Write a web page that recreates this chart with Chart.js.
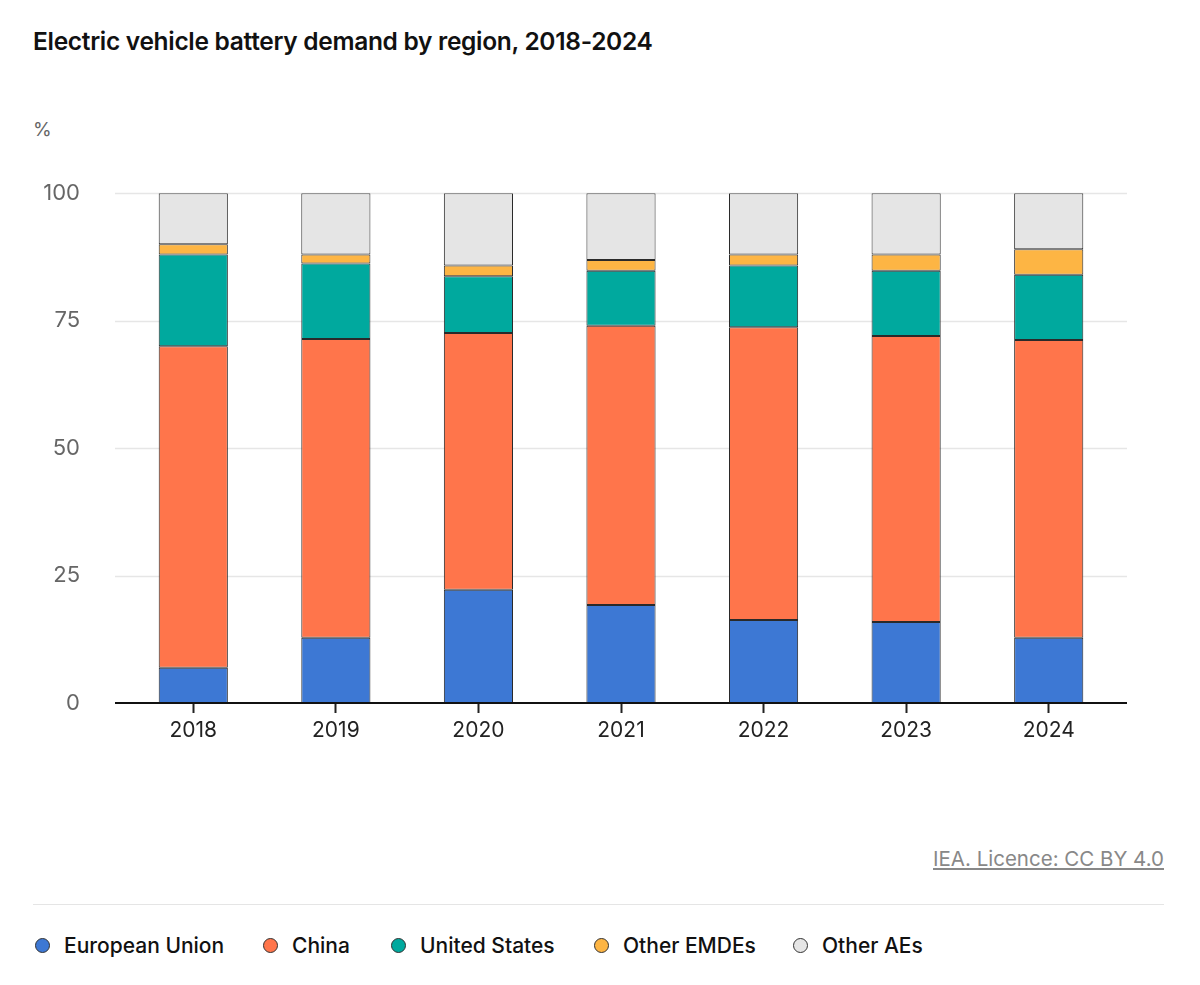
<!DOCTYPE html>
<html>
<head>
<meta charset="utf-8">
<script src="https://cdn.jsdelivr.net/npm/chart.js@4/dist/chart.umd.min.js"></script>
<style>
  body { margin: 0; background: #fff; font-family: "Inter", "Noto Sans", sans-serif; }
  #page { position: relative; width: 1200px; height: 985px; }
  #title { position: absolute; left: 33px; top: 26px; font-size: 24.5px; font-weight: 600; color: #111; letter-spacing: -0.3px; }
  #unit { position: absolute; left: 33px; top: 118px; font-size: 19px; color: #666; }
  #chart-box { position: absolute; left: 0; top: 146px; width: 1200px; height: 614px; }
  #source { position: absolute; right: 36px; top: 846px; font-size: 20.5px; color: #888; text-decoration: underline; }
  #sep { position: absolute; left: 33px; right: 36px; top: 904px; border-top: 1px solid #e5e5e5; }
  #legend { position: absolute; left: 35px; top: 933px; font-size: 21px; font-weight: 500; color: #111; }
  .item { position: absolute; top: 0; display: flex; align-items: center; white-space: nowrap; }
  .dot { width: 15px; height: 15px; border-radius: 50%; border: 1px solid #333; box-sizing: border-box; margin-right: 14px; }
</style>
</head>
<body>
<div id="page">
  <div id="title">Electric vehicle battery demand by region, 2018-2024</div>
  <div id="unit">%</div>
  <div id="chart-box"><canvas id="chart"></canvas></div>
  <div id="source">IEA. Licence: CC BY 4.0</div>
  <div id="sep"></div>
  <div id="legend"></div>
</div>
<script>
var years = ["2018", "2019", "2020", "2021", "2022", "2023", "2024"];
var euData = [6.9, 12.8, 22.2, 19.2, 16.3, 15.9, 12.8];
var chinaData = [63.1, 58.6, 50.4, 54.8, 57.4, 56.1, 58.4];
var usData = [18, 14.8, 11.1, 10.8, 12.1, 12.8, 12.8];
var emdeData = [2, 1.8, 2.1, 2.1, 2.2, 3.2, 5];
var aeData = [10, 12, 14.2, 13.1, 12, 12, 11];
var yTicks = [0, 25, 50, 75, 100];

var series = [
  { label: "European Union", data: euData, color: "#3d78d4" },
  { label: "China", data: chinaData, color: "#ff754b" },
  { label: "United States", data: usData, color: "#00a99e" },
  { label: "Other EMDEs", data: emdeData, color: "#fdb544" },
  { label: "Other AEs", data: aeData, color: "#e5e5e5" },
];

// legend positions roughly as in the original layout
var legendX = [0, 228, 356, 559, 758];
var legend = document.getElementById("legend");
series.forEach(function (s, i) {
  var item = document.createElement("div");
  item.className = "item";
  item.style.left = legendX[i] + "px";
  item.innerHTML = "<span class='dot' style='background:" + s.color + "'></span>" + s.label;
  legend.appendChild(item);
});

// gridlines and baseline run a bit past the bars on both sides
var EXTEND = 7;
var gridPlugin = {
  id: "wideGrid",
  beforeDatasetsDraw: function (c) {
    var ctx = c.ctx;
    var area = c.chartArea;
    var y = c.scales.y;
    ctx.save();
    ctx.strokeStyle = "#e6e6e6";
    ctx.lineWidth = 1.5;
    yTicks.forEach(function (v) {
      if (v === 0) return;
      var py = Math.round(y.getPixelForValue(v)) + 0.5;
      ctx.beginPath();
      ctx.moveTo(area.left - EXTEND, py);
      ctx.lineTo(area.right + EXTEND, py);
      ctx.stroke();
    });
    ctx.restore();
  },
  afterDatasetsDraw: function (c) {
    var ctx = c.ctx;
    var area = c.chartArea;
    var py = c.scales.y.getPixelForValue(0);
    ctx.save();
    ctx.strokeStyle = "#111";
    ctx.lineWidth = 2;
    ctx.beginPath();
    ctx.moveTo(area.left - EXTEND, py);
    ctx.lineTo(area.right + EXTEND, py);
    ctx.stroke();
    ctx.restore();
  },
};

var chart = document.getElementById("chart");

var config = {
  type: "bar",
  data: {
    labels: years,
    datasets: series.map(function (s) {
      return {
        label: s.label,
        data: s.data,
        backgroundColor: s.color,
        borderColor: "#2a2a2a",
        borderWidth: 1,
        borderSkipped: false,
        barPercentage: 0.485,
        categoryPercentage: 1,
      };
    }),
  },
  options: {
    maintainAspectRatio: false,
    animation: false,
    layout: { padding: { top: 0, right: 80, left: 0, bottom: 0 } },
    plugins: {
      legend: { display: false },
      tooltip: { enabled: false },
    },
    scales: {
      x: {
        stacked: true,
        grid: {
          display: true,
          drawOnChartArea: false,
          offset: false,
          tickLength: 10,
          tickWidth: 2,
          tickColor: "#222",
        },
        border: { display: false },
        ticks: {
          color: "#222",
          font: { family: "Inter", size: 21 },
          padding: 5,
        },
        afterFit: function (scale) {
          scale.height = 57;
        },
      },
      y: {
        stacked: true,
        min: 0,
        max: 100,
        afterBuildTicks: function (scale) {
          scale.ticks = yTicks.map(function (v) {
            return { value: v };
          });
        },
        grid: { display: false },
        border: { display: false },
        ticks: {
          color: "#666",
          font: { family: "Inter", size: 22 },
          padding: 34,
        },
        afterFit: function (scale) {
          scale.width = 122;
        },
      },
    },
  },
  plugins: [gridPlugin],
};

new Chart(chart, config);
</script>
</body>
</html>
